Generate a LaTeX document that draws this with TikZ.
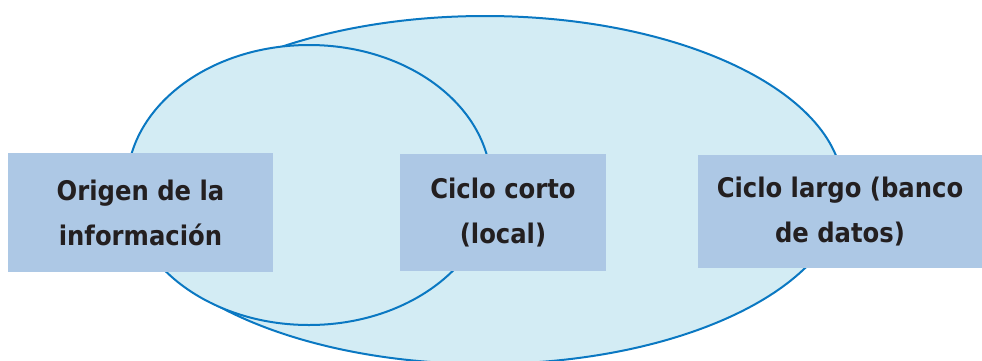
\documentclass[tikz,border=0pt]{standalone}
\usepackage{fontspec}
\setmainfont{DejaVu Sans Condensed}
\definecolor{ringfill}{HTML}{D3ECF4}
\definecolor{ringline}{HTML}{0A78C2}
\definecolor{boxfill}{HTML}{ADC8E5}
\definecolor{labeltext}{HTML}{231F20}
\tikzset{
  ring/.style={fill=ringfill, draw=ringline, line width=2pt},
  stage/.style={fill=boxfill, draw=none, inner sep=0pt, align=center,
    text=labeltext, font=\fontsize{27}{45}\selectfont\bfseries}
}
\begin{document}
\begin{tikzpicture}[x=1pt,y=-1pt]
\useasboundingbox (0,0) rectangle (982,360);
% long cycle and short cycle
\draw[ring] (485,190) ellipse [x radius=358, y radius=174];
\draw[ring] (309,185) ellipse [x radius=182, y radius=140];
% stage boxes
\node[stage, minimum width=265pt, minimum height=119pt] (origen) at (140.5,212.5) {Origen de la\\información};
\node[stage, minimum width=206pt, minimum height=117pt] (corto) at (503,212.5) {Ciclo corto\\(local)};
\node[stage, minimum width=284pt, minimum height=113pt] (largo) at (840,211.5) {Ciclo largo (banco\\de datos)};
\end{tikzpicture}
\end{document}
